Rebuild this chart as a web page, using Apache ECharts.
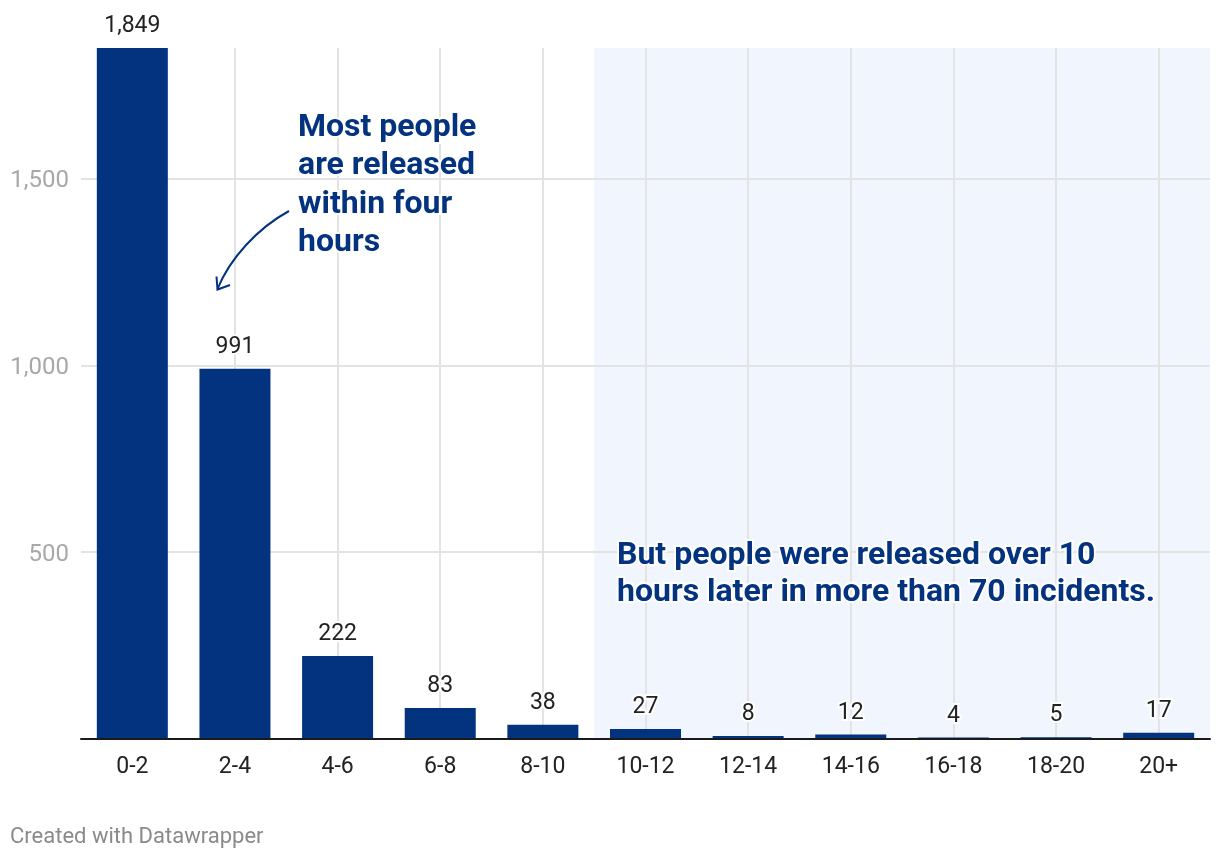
<!DOCTYPE html>
<html>
<head>
<meta charset="utf-8">
<script src="https://cdn.jsdelivr.net/npm/echarts@6/dist/echarts.min.js"></script>
<style>
html,body{margin:0;padding:0;background:#fff;}
#chart{width:1220px;height:860px;}
</style>
</head>
<body>
<div id="chart"></div>
<script>
const categories = ['0-2','2-4','4-6','6-8','8-10','10-12','12-14','14-16','16-18','18-20','20+'];
const counts = [1849, 991, 222, 83, 38, 27, 8, 12, 4, 5, 17];
const yTicks = [500, 1000, 1500];
const shadeStartIndex = 5; // shaded from "10-12" onwards

const BLUE = '#03327f';
const chart = echarts.init(document.getElementById('chart'), null, {renderer: 'canvas'});

const option = {
  animation: false,
  backgroundColor: '#ffffff',
  textStyle: {fontFamily: 'Roboto'},
  grid: {left: 81, right: 10, top: 48, bottom: 121, containLabel: false},
  xAxis: [
    {
      type: 'category',
      data: categories,
      z: 3,
      axisLine: {show: true, lineStyle: {color: '#1a1a1a', width: 2}},
      axisTick: {show: false},
      splitLine: {show: false},
      axisLabel: {color: '#222', fontSize: 23, margin: 17, fontFamily: 'Roboto'}
    },
    {
      type: 'value',
      min: 0,
      max: categories.length,
      show: false,
      splitLine: {show: false}
    }
  ],
  yAxis: {
    type: 'value',
    min: 0,
    max: 'dataMax',
    interval: 500,
    z: 1,
    axisLine: {show: false},
    axisTick: {show: false},
    splitLine: {show: true, showMaxLine: false, lineStyle: {color: '#e3e3e3', width: 2}},
    axisLabel: {
      color: '#a8a8a8', fontSize: 24, margin: 12, fontFamily: 'Roboto',
      showMaxLabel: false,
      rich: {t: {color: '#a8a8a8', fontSize: 24, fontFamily: 'Roboto', padding: [6, 0, 0, 0]}},
      formatter: function (v) { return yTicks.indexOf(v) >= 0 ? '{t|' + v.toLocaleString('en-US') + '}' : ''; }
    }
  },
  series: [
    {
      type: 'line',
      xAxisIndex: 1,
      data: [[shadeStartIndex, 0]],
      showSymbol: false,
      symbolSize: 0,
      lineStyle: {opacity: 0},
      silent: true,
      z: 0,
      markArea: {
        silent: true,
        z: 0,
        itemStyle: {color: '#f0f5fe'},
        data: [[{xAxis: shadeStartIndex}, {xAxis: categories.length}]]
      }
    },
    {
      type: 'bar',
      data: counts,
      barWidth: 71,
      z: 2,
      itemStyle: {color: BLUE},
      label: {
        show: true,
        position: 'top',
        distance: 10,
        color: '#222',
        fontSize: 23,
        fontFamily: 'Roboto',
        textBorderColor: '#ffffff',
        textBorderWidth: 4,
        formatter: function (p) { return p.value.toLocaleString('en-US'); }
      },
      markLine: {
        silent: true,
        symbol: ['none', 'none'],
        z: 1,
        label: {show: false},
        lineStyle: {color: '#e3e3e3', width: 2, type: 'solid'},
        data: categories.map(function (c) { return {xAxis: c}; })
      }
    }
  ],
  graphic: [
    {
      type: 'text',
      x: 298, y: 109,
      z: 10,
      style: {
        text: 'Most people\nare released\nwithin four\nhours',
        fill: BLUE,
        font: 'bold 32px Roboto',
        lineHeight: 38.3,
        stroke: '#ffffff',
        lineWidth: 4
      }
    },
    {
      type: 'text',
      x: 617, y: 537,
      z: 10,
      style: {
        text: 'But people were released over 10\nhours later in more than 70 incidents.',
        fill: BLUE,
        font: 'bold 32px Roboto',
        lineHeight: 37.5,
        stroke: '#ffffff',
        lineWidth: 4
      }
    },
    {
      type: 'bezierCurve',
      z: 10,
      shape: {x1: 289, y1: 211, x2: 217.5, y2: 289, cpx1: 258, cpy1: 228, cpx2: 230, cpy2: 258},
      style: {stroke: BLUE, lineWidth: 2, fill: null}
    },
    {
      type: 'polyline',
      z: 10,
      shape: {points: [[216.5, 276.5], [217.5, 289.5], [230, 285]]},
      style: {stroke: BLUE, lineWidth: 2, fill: null}
    },
    {
      type: 'text',
      x: 10, y: 837,
      style: {
        text: 'Created with Datawrapper',
        fill: '#8a8a8a',
        font: '22px Roboto',
        verticalAlign: 'middle'
      }
    }
  ]
};
chart.setOption(option);
</script>
</body>
</html>
